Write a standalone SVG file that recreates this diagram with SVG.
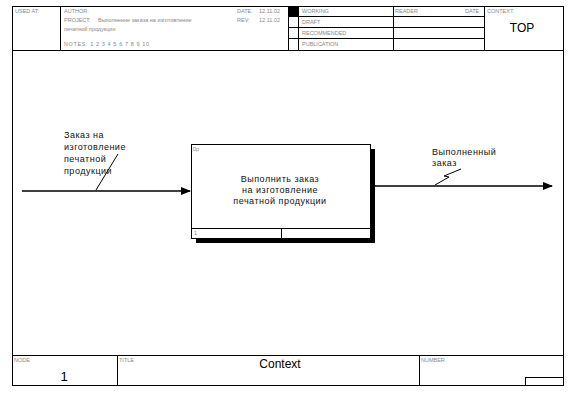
<svg xmlns="http://www.w3.org/2000/svg" width="570" height="409" viewBox="0 0 570 409">
<style>
.ln{stroke:#000;stroke-width:1;fill:none}
.box{stroke:#000;stroke-width:1;fill:#fff}
.sm{font-family:"Liberation Sans",Arial,sans-serif;font-size:5.5px;fill:#888}
.lbl{font-family:"Liberation Sans",Arial,sans-serif;font-size:9px;fill:#111;letter-spacing:0.5px}
.big{font-family:"Liberation Sans",Arial,sans-serif;fill:#000}
.arr{stroke:#000;stroke-width:1.6;fill:none}
</style>
<defs>
<marker id="ah" markerWidth="10" markerHeight="8" refX="9" refY="4" orient="auto" markerUnits="userSpaceOnUse">
<path d="M0,0 L10,4 L0,8 Z" fill="#000"/>
</marker>
</defs>
<rect width="570" height="409" fill="#fff"/>
<g id="frame">
<rect class="ln" x="12.5" y="6.5" width="551" height="379"/>
<line class="ln" x1="12" y1="50.5" x2="564" y2="50.5"/>
<line class="ln" x1="12" y1="355.5" x2="564" y2="355.5"/>
<line class="ln" x1="60.5" y1="6" x2="60.5" y2="50"/>
<line class="ln" x1="288.5" y1="6" x2="288.5" y2="50"/>
<line class="ln" x1="298.5" y1="6" x2="298.5" y2="50"/>
<line class="ln" x1="393.5" y1="6" x2="393.5" y2="50"/>
<line class="ln" x1="484.5" y1="6" x2="484.5" y2="50"/>
<line class="ln" x1="288" y1="16.5" x2="484" y2="16.5"/>
<line class="ln" x1="288" y1="27.5" x2="484" y2="27.5"/>
<line class="ln" x1="288" y1="38.5" x2="484" y2="38.5"/>
<rect x="288.5" y="6.5" width="10" height="10" fill="#000"/>
<line class="ln" x1="117.5" y1="355" x2="117.5" y2="386"/>
<line class="ln" x1="419.5" y1="355" x2="419.5" y2="386"/>
<rect class="ln" x="525.5" y="377.5" width="38" height="8"/>
<text class="sm" x="15" y="13">USED AT:</text>
<text class="sm" x="64" y="13">AUTHOR:</text>
<text class="sm" x="64" y="22">PROJECT:</text>
<text class="sm" x="98" y="22">Выполнение заказа на изготовление</text>
<text class="sm" x="64" y="31">печатной продукции</text>
<text class="sm" x="64" y="46" letter-spacing="0.6">NOTES:  1  2  3  4  5  6  7  8  9  10</text>
<text class="sm" x="237" y="13">DATE:</text>
<text class="sm" x="259" y="13">12.11.02</text>
<text class="sm" x="237" y="22">REV:</text>
<text class="sm" x="259" y="22">12.11.02</text>
<text class="sm" x="302" y="13">WORKING</text>
<text class="sm" x="302" y="24">DRAFT</text>
<text class="sm" x="302" y="35">RECOMMENDED</text>
<text class="sm" x="302" y="46">PUBLICATION</text>
<text class="sm" x="395" y="13">READER</text>
<text class="sm" x="465" y="13">DATE</text>
<text class="sm" x="487" y="13">CONTEXT:</text>
<text class="big" x="522" y="32" font-size="12" text-anchor="middle">TOP</text>
<text class="sm" x="14" y="362">NODE</text>
<text class="sm" x="119" y="362">TITLE</text>
<text class="sm" x="421" y="362">NUMBER</text>
<text class="big" x="64" y="381" font-size="13" text-anchor="middle">1</text>
<text class="big" x="280" y="368" font-size="12" text-anchor="middle">Context</text>
</g>
<g id="node-A0">
<rect x="196" y="149" width="179" height="94" fill="#000"/>
<rect class="box" x="191.5" y="144.5" width="179" height="94"/>
<line class="ln" x1="191" y1="228.5" x2="370" y2="228.5"/>
<line class="ln" x1="281.5" y1="228" x2="281.5" y2="238"/>
<text class="sm" x="193" y="151" fill="#666">0р</text>
<text class="sm" x="194" y="235" fill="#444">1</text>
<text class="lbl" text-anchor="middle"><tspan x="280" y="182">Выполнить заказ</tspan><tspan x="280" y="193">на изготовление</tspan><tspan x="280" y="204">печатной продукции</tspan></text>
</g>
<g id="connectors">
<line class="arr" x1="22" y1="191" x2="190" y2="191" marker-end="url(#ah)"/>
<line class="ln" x1="96" y1="190" x2="118" y2="154"/>
<text class="lbl"><tspan x="64" y="138">Заказ на</tspan><tspan x="64" y="150">изготовление</tspan><tspan x="64" y="162">печатной</tspan><tspan x="64" y="174">продукции</tspan></text>
<line class="arr" x1="375" y1="186" x2="552" y2="186" marker-end="url(#ah)"/>
<polyline class="ln" points="435,185 449,177 444,176 461,169"/>
<text class="lbl"><tspan x="432" y="155">Выполненный</tspan><tspan x="432" y="166">заказ</tspan></text>
</g>
</svg>
